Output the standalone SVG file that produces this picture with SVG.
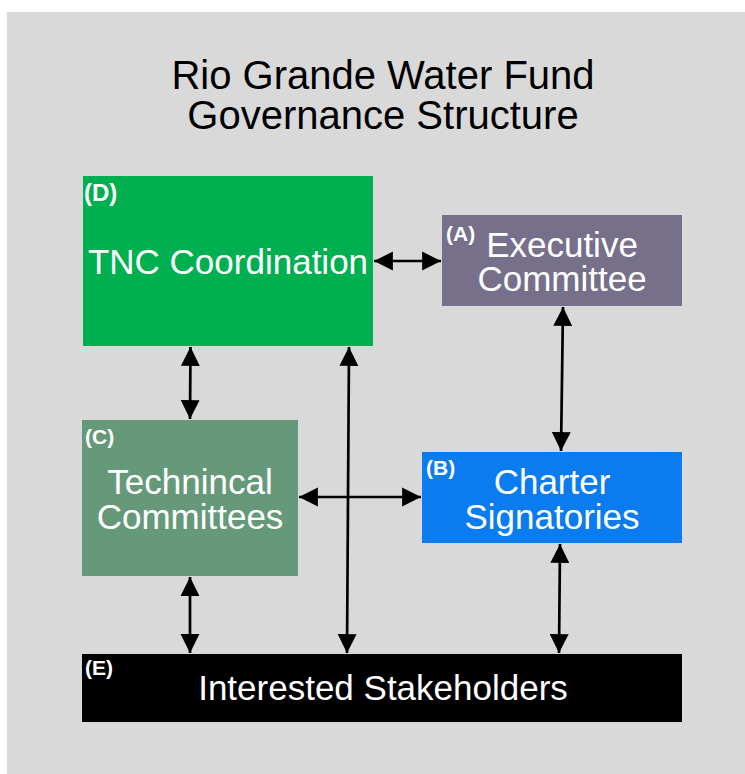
<svg xmlns="http://www.w3.org/2000/svg" width="745" height="774" viewBox="0 0 745 774">
  <defs>
    <style>
      .title { font-family: "Liberation Sans", Arial, sans-serif; font-size: 40px; fill: #000; text-anchor: middle; }
      .label { font-family: "Liberation Sans", Arial, sans-serif; font-size: 35px; fill: #fff; text-anchor: middle; }
      .tag { font-family: "Liberation Sans", Arial, sans-serif; font-size: 21px; font-weight: bold; fill: #fff; }
      .tag-lg { font-size: 24px; }
      .link { stroke: #000; stroke-width: 2.7; fill: none; marker-start: url(#head); marker-end: url(#head); }
    </style>
    <marker id="head" viewBox="0 0 10 10" refX="10" refY="5" markerWidth="7" markerHeight="7.6" orient="auto-start-reverse" markerUnits="strokeWidth">
      <path d="M0,0 L10,5 L0,10 Z" fill="#000"/>
    </marker>
  </defs>

  <!-- page background -->
  <rect x="7" y="12" width="738" height="762" fill="#d9d9d9"/>

  <text class="title" x="383" y="89">Rio Grande Water Fund<tspan x="383" dy="40">Governance Structure</tspan></text>

  <!-- connectors -->
  <g id="connectors">
    <line class="link" x1="374" y1="261" x2="441" y2="261"/>
    <line class="link" x1="563" y1="307" x2="561" y2="451"/>
    <line class="link" x1="190.5" y1="347" x2="190" y2="419"/>
    <line class="link" x1="349" y1="347" x2="347" y2="653"/>
    <line class="link" x1="299" y1="497" x2="421" y2="497"/>
    <line class="link" x1="190" y1="577" x2="190" y2="653"/>
    <line class="link" x1="560" y1="544" x2="559" y2="653"/>
  </g>

  <g id="node-d">
    <rect x="83" y="176" width="290" height="170" fill="#00b050"/>
    <text class="tag tag-lg" x="84" y="201">(D)</text>
    <text class="label" x="228" y="274">TNC Coordination</text>
  </g>

  <g id="node-a">
    <rect x="442" y="215" width="240" height="91" fill="#76708a"/>
    <text class="tag" x="446" y="241">(A)</text>
    <text class="label" x="562" y="257">Executive<tspan x="562" dy="34">Committee</tspan></text>
  </g>

  <g id="node-c">
    <rect x="82" y="420" width="216" height="156" fill="#66997a"/>
    <text class="tag" x="85" y="444">(C)</text>
    <text class="label" x="190" y="494">Technincal<tspan x="190" dy="35">Committees</tspan></text>
  </g>

  <g id="node-b">
    <rect x="422" y="452" width="260" height="91" fill="#0a7cf0"/>
    <text class="tag" x="426" y="475">(B)</text>
    <text class="label" x="552" y="494">Charter<tspan x="552" dy="35">Signatories</tspan></text>
  </g>

  <g id="node-e">
    <rect x="82" y="654" width="600" height="68" fill="#000"/>
    <text class="tag" x="85" y="675">(E)</text>
    <text class="label" x="383" y="700">Interested Stakeholders</text>
  </g>
</svg>
